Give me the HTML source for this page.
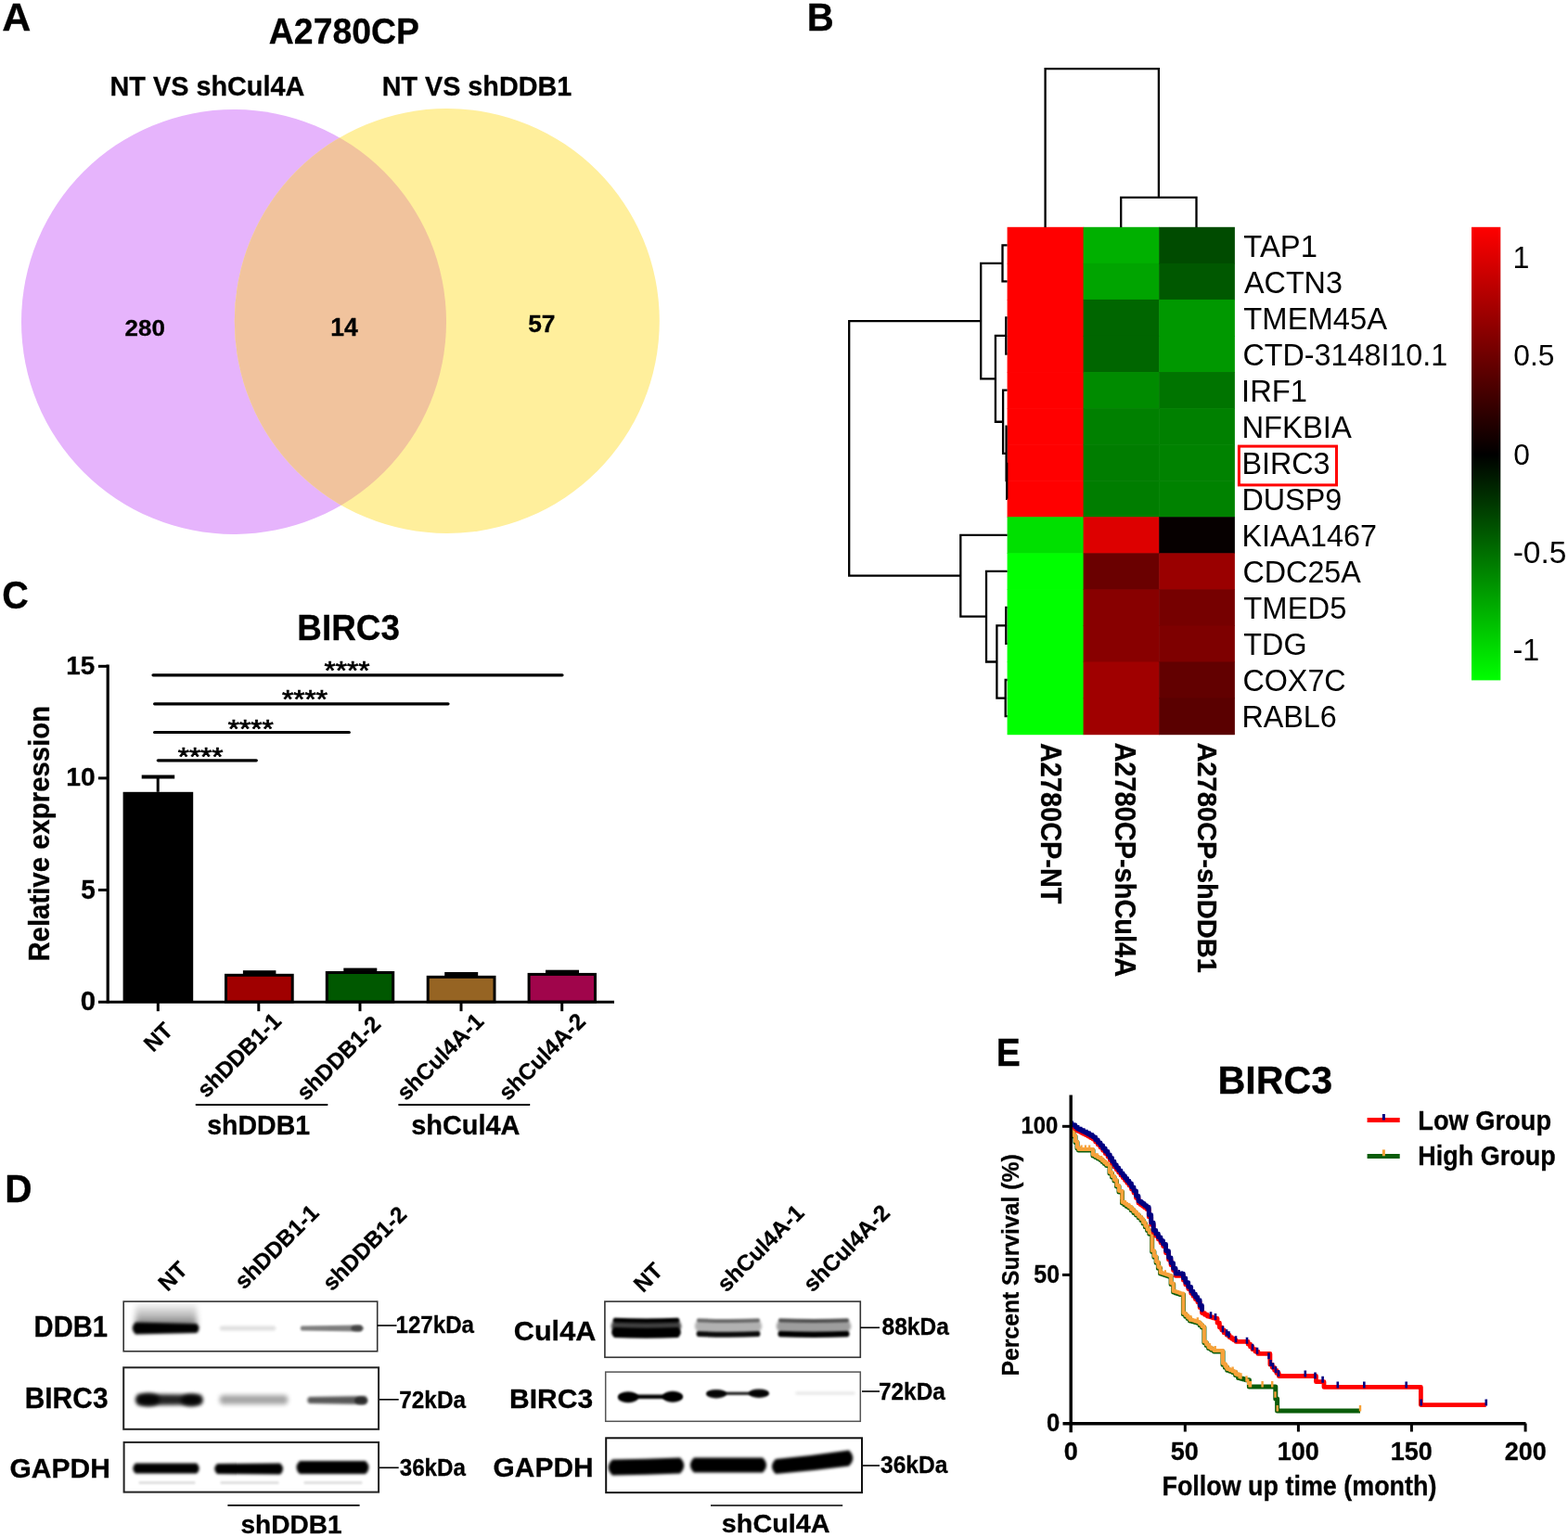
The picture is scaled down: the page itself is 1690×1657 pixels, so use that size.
<!DOCTYPE html>
<html><head><meta charset="utf-8"><title>Figure</title>
<style>html,body{margin:0;padding:0;background:#fff}svg{display:block}</style></head>
<body><svg width="1690" height="1657" viewBox="0 0 1690 1657" font-family="'Liberation Sans', Arial, sans-serif">
<rect width="1690" height="1657" fill="#fff"/>
<text transform="translate(3.40 32.70)" x="-1.08" y="0.00" font-size="43.04" font-weight="bold" stroke="#000" stroke-width="0.3" fill="#000">A</text>
<defs><clipPath id="cl"><circle cx="252" cy="347" r="229"/></clipPath></defs>
<circle cx="252" cy="347" r="229" fill="#E6B4FC"/>
<circle cx="481.8" cy="346" r="229" fill="#FFEF9C"/>
<circle cx="481.8" cy="346" r="229" fill="#F1C39D" clip-path="url(#cl)"/>
<text transform="translate(290.80 47.30) scale(0.9869 1)" x="-0.95" y="0.00" font-size="37.86" font-weight="bold" stroke="#000" stroke-width="0.3" fill="#000">A2780CP</text>
<text transform="translate(120.40 103.00) scale(0.9895 1)" x="-1.89" y="0.00" font-size="29.14" font-weight="bold" stroke="#000" stroke-width="0.3" fill="#000">NT VS shCul4A</text>
<text transform="translate(413.60 103.00) scale(0.9864 1)" x="-1.89" y="0.00" font-size="29.14" font-weight="bold" stroke="#000" stroke-width="0.3" fill="#000">NT VS shDDB1</text>
<text transform="translate(135.50 362.20) scale(1.0571 1)" x="-0.86" y="0.00" font-size="24.57" font-weight="bold" stroke="#000" stroke-width="0.3" fill="#000">280</text>
<text transform="translate(357.90 362.20) scale(0.9526 1)" x="-1.67" y="0.00" font-size="27.83" font-weight="bold" stroke="#000" stroke-width="0.3" fill="#000">14</text>
<text transform="translate(570.00 357.90) scale(0.9934 1)" x="-0.80" y="0.00" font-size="26.52" font-weight="bold" stroke="#000" stroke-width="0.3" fill="#000">57</text>
<text transform="translate(872.40 32.70) scale(0.9331 1)" x="-2.80" y="0.00" font-size="43.04" font-weight="bold" stroke="#000" stroke-width="0.3" fill="#000">B</text>
<rect x="1085.60" y="244.80" width="82.60" height="39.66" fill="#FF0000"/>
<rect x="1085.60" y="283.86" width="82.60" height="39.66" fill="#FF0000"/>
<rect x="1085.60" y="322.91" width="82.60" height="39.66" fill="#FF0000"/>
<rect x="1085.60" y="361.97" width="82.60" height="39.66" fill="#FF0000"/>
<rect x="1085.60" y="401.03" width="82.60" height="39.66" fill="#FF0000"/>
<rect x="1085.60" y="440.09" width="82.60" height="39.66" fill="#FF0000"/>
<rect x="1085.60" y="479.14" width="82.60" height="39.66" fill="#FF0000"/>
<rect x="1085.60" y="518.20" width="82.60" height="39.66" fill="#FF0000"/>
<rect x="1085.60" y="557.26" width="82.60" height="39.66" fill="#00E000"/>
<rect x="1085.60" y="596.31" width="82.60" height="39.66" fill="#00FF00"/>
<rect x="1085.60" y="635.37" width="82.60" height="39.66" fill="#00FF00"/>
<rect x="1085.60" y="674.43" width="82.60" height="39.66" fill="#00FF00"/>
<rect x="1085.60" y="713.49" width="82.60" height="39.66" fill="#00FF00"/>
<rect x="1085.60" y="752.54" width="82.60" height="39.66" fill="#00FF00"/>
<rect x="1167.60" y="244.80" width="82.20" height="39.66" fill="#00B000"/>
<rect x="1167.60" y="283.86" width="82.20" height="39.66" fill="#00A400"/>
<rect x="1167.60" y="322.91" width="82.20" height="39.66" fill="#006600"/>
<rect x="1167.60" y="361.97" width="82.20" height="39.66" fill="#006600"/>
<rect x="1167.60" y="401.03" width="82.20" height="39.66" fill="#008B00"/>
<rect x="1167.60" y="440.09" width="82.20" height="39.66" fill="#008000"/>
<rect x="1167.60" y="479.14" width="82.20" height="39.66" fill="#007D00"/>
<rect x="1167.60" y="518.20" width="82.20" height="39.66" fill="#007D00"/>
<rect x="1167.60" y="557.26" width="82.20" height="39.66" fill="#DD0000"/>
<rect x="1167.60" y="596.31" width="82.20" height="39.66" fill="#6A0000"/>
<rect x="1167.60" y="635.37" width="82.20" height="39.66" fill="#880000"/>
<rect x="1167.60" y="674.43" width="82.20" height="39.66" fill="#880000"/>
<rect x="1167.60" y="713.49" width="82.20" height="39.66" fill="#A00000"/>
<rect x="1167.60" y="752.54" width="82.20" height="39.66" fill="#A00000"/>
<rect x="1249.20" y="244.80" width="81.70" height="39.66" fill="#004B00"/>
<rect x="1249.20" y="283.86" width="81.70" height="39.66" fill="#005800"/>
<rect x="1249.20" y="322.91" width="81.70" height="39.66" fill="#009800"/>
<rect x="1249.20" y="361.97" width="81.70" height="39.66" fill="#009800"/>
<rect x="1249.20" y="401.03" width="81.70" height="39.66" fill="#007400"/>
<rect x="1249.20" y="440.09" width="81.70" height="39.66" fill="#008000"/>
<rect x="1249.20" y="479.14" width="81.70" height="39.66" fill="#008200"/>
<rect x="1249.20" y="518.20" width="81.70" height="39.66" fill="#008200"/>
<rect x="1249.20" y="557.26" width="81.70" height="39.66" fill="#060000"/>
<rect x="1249.20" y="596.31" width="81.70" height="39.66" fill="#9A0000"/>
<rect x="1249.20" y="635.37" width="81.70" height="39.66" fill="#760000"/>
<rect x="1249.20" y="674.43" width="81.70" height="39.66" fill="#7E0000"/>
<rect x="1249.20" y="713.49" width="81.70" height="39.66" fill="#620000"/>
<rect x="1249.20" y="752.54" width="81.70" height="39.66" fill="#5A0000"/>
<path d="M1126.6 245 V74.2 H1248.9 V212.8 M1208.2 245 V212.8 H1289.5 V245" stroke="#000" stroke-width="2.3" fill="none"/>
<path d="M1085.60 264.33 H1080.50 V303.39 H1085.60 M1085.60 342.44 H1084.30 V381.50 H1085.60 M1085.60 498.67 H1085.20 V537.73 H1085.60 M1085.60 459.61 H1084.60 V518.20 H1085.20 M1085.60 420.56 H1081.10 V488.91 H1084.60 M1084.30 361.97 H1072.90 V454.73 H1081.10 M1080.50 283.86 H1057.20 V408.35 H1072.90 M1085.60 654.90 H1084.30 V693.96 H1085.60 M1085.60 733.01 H1083.70 V772.07 H1085.60 M1084.30 674.43 H1074.40 V752.54 H1083.70 M1085.60 615.84 H1063.00 V713.49 H1074.40 M1085.60 576.79 H1035.30 V664.66 H1063.00 M1057.20 346.10 H915.20 V620.72 H1035.30" stroke="#000" stroke-width="2.3" fill="none"/>
<text transform="translate(1341.00 276.73) scale(0.9835 1)" x="-0.67" y="0.00" font-size="33.33" fill="#000">TAP1</text>
<text transform="translate(1341.00 315.79) scale(0.9835 1)" x="-0.00" y="0.00" font-size="32.86" fill="#000">ACTN3</text>
<text transform="translate(1341.00 354.84) scale(0.9835 1)" x="-0.67" y="0.00" font-size="33.33" fill="#000">TMEM45A</text>
<text transform="translate(1341.00 393.90) scale(0.9835 1)" x="-1.64" y="0.00" font-size="32.86" fill="#000">CTD-3148I10.1</text>
<text transform="translate(1341.00 432.96) scale(0.9835 1)" x="-3.00" y="0.00" font-size="33.33" fill="#000">IRF1</text>
<text transform="translate(1341.00 472.01) scale(0.9835 1)" x="-2.67" y="0.00" font-size="33.33" fill="#000">NFKBIA</text>
<text transform="translate(1341.00 511.07) scale(0.9835 1)" x="-2.63" y="0.00" font-size="32.86" fill="#000">BIRC3</text>
<text transform="translate(1341.00 550.13) scale(0.9835 1)" x="-2.63" y="0.00" font-size="32.86" fill="#000">DUSP9</text>
<text transform="translate(1341.00 589.19) scale(0.9835 1)" x="-2.63" y="0.00" font-size="32.86" fill="#000">KIAA1467</text>
<text transform="translate(1341.00 628.24) scale(0.9835 1)" x="-1.64" y="0.00" font-size="32.86" fill="#000">CDC25A</text>
<text transform="translate(1341.00 667.30) scale(0.9835 1)" x="-0.67" y="0.00" font-size="33.33" fill="#000">TMED5</text>
<text transform="translate(1341.00 706.36) scale(0.9835 1)" x="-0.66" y="0.00" font-size="32.86" fill="#000">TDG</text>
<text transform="translate(1341.00 745.41) scale(0.9835 1)" x="-1.64" y="0.00" font-size="32.86" fill="#000">COX7C</text>
<text transform="translate(1341.00 784.47) scale(0.9835 1)" x="-2.63" y="0.00" font-size="32.86" fill="#000">RABL6</text>
<rect x="1335.4" y="481.1" width="105.1" height="41.8" fill="none" stroke="#FF0000" stroke-width="3"/>
<defs><linearGradient id="cb" x1="0" y1="0" x2="0" y2="1"><stop offset="0" stop-color="#FF0000"/><stop offset="0.502" stop-color="#000000"/><stop offset="1" stop-color="#00FF00"/></linearGradient></defs>
<rect x="1586.00" y="244.80" width="31.30" height="488.60" fill="url(#cb)"/>
<text transform="translate(1633.00 289.30) scale(0.9835 1)" x="-2.46" y="0.00" font-size="32.75" fill="#000">1</text>
<text transform="translate(1632.60 394.30) scale(0.9835 1)" x="-1.29" y="0.00" font-size="32.29" fill="#000">0.5</text>
<text transform="translate(1632.60 500.50) scale(0.9835 1)" x="-1.29" y="0.00" font-size="32.29" fill="#000">0</text>
<text transform="translate(1632.00 712.00) scale(0.9835 1)" x="-1.47" y="0.00" font-size="32.75" fill="#000">-1</text>
<text transform="translate(1632.20 607.60) scale(1.0083 1)" x="-1.50" y="-0.33" font-size="33.24" fill="#000">-0.5</text>
<text transform="translate(1121.80 801.70) rotate(90) scale(0.9329 1)" x="-0.78" y="0.00" font-size="31.00" font-weight="bold" stroke="#000" stroke-width="0.3" fill="#000">A2780CP-NT</text>
<text transform="translate(1202.10 801.10) rotate(90) scale(0.9432 1)" x="-0.77" y="0.00" font-size="30.71" font-weight="bold" stroke="#000" stroke-width="0.3" fill="#000">A2780CP-shCul4A</text>
<text transform="translate(1291.30 801.10) rotate(90) scale(0.9591 1)" x="-0.76" y="0.00" font-size="30.29" font-weight="bold" stroke="#000" stroke-width="0.3" fill="#000">A2780CP-shDDB1</text>
<text transform="translate(3.90 656.20) scale(0.9390 1)" x="-1.68" y="-0.42" font-size="42.11" font-weight="bold" stroke="#000" stroke-width="0.3" fill="#000">C</text>
<text transform="translate(322.70 689.60) scale(0.9592 1)" x="-2.50" y="0.00" font-size="38.43" font-weight="bold" stroke="#000" stroke-width="0.3" fill="#000">BIRC3</text>
<line x1="116.20" y1="716.50" x2="116.20" y2="1081.50" stroke="#000" stroke-width="3.2"/>
<line x1="105.90" y1="1080.20" x2="662.00" y2="1080.20" stroke="#000" stroke-width="3"/>
<line x1="105.90" y1="718.30" x2="116.00" y2="718.30" stroke="#000" stroke-width="3"/>
<line x1="105.90" y1="838.90" x2="116.00" y2="838.90" stroke="#000" stroke-width="3"/>
<line x1="105.90" y1="959.50" x2="116.00" y2="959.50" stroke="#000" stroke-width="3"/>
<line x1="170.30" y1="1080.00" x2="170.30" y2="1090.20" stroke="#000" stroke-width="3"/>
<line x1="278.80" y1="1080.00" x2="278.80" y2="1090.20" stroke="#000" stroke-width="3"/>
<line x1="388.00" y1="1080.00" x2="388.00" y2="1090.20" stroke="#000" stroke-width="3"/>
<line x1="497.00" y1="1080.00" x2="497.00" y2="1090.20" stroke="#000" stroke-width="3"/>
<line x1="605.70" y1="1080.00" x2="605.70" y2="1090.20" stroke="#000" stroke-width="3"/>
<text transform="translate(73.00 727.50) scale(0.9830 1)" x="-1.70" y="-0.28" font-size="28.29" font-weight="bold" stroke="#000" stroke-width="0.3" fill="#000">15</text>
<text transform="translate(73.00 847.70) scale(1.0381 1)" x="-1.63" y="-0.27" font-size="27.18" font-weight="bold" stroke="#000" stroke-width="0.3" fill="#000">10</text>
<text transform="translate(88.00 969.00) scale(0.9655 1)" x="-0.87" y="-0.29" font-size="29.00" font-weight="bold" stroke="#000" stroke-width="0.3" fill="#000">5</text>
<text transform="translate(88.00 1089.20) scale(1.0061 1)" x="-1.17" y="-0.29" font-size="29.30" font-weight="bold" stroke="#000" stroke-width="0.3" fill="#000">0</text>
<text transform="translate(52.70 1034.70) rotate(-90) scale(0.9427 1)" x="-2.03" y="0.00" font-size="31.16" font-weight="bold" stroke="#000" stroke-width="0.3" fill="#000">Relative expression</text>
<rect x="132.60" y="853.80" width="75.60" height="226.20" fill="#000"/>
<line x1="170.20" y1="853.80" x2="170.20" y2="837.00" stroke="#000" stroke-width="3"/>
<line x1="152.70" y1="837.50" x2="188.20" y2="837.50" stroke="#000" stroke-width="4"/>
<rect x="243.50" y="1051.30" width="71.70" height="28.70" fill="#A00000" stroke="#000" stroke-width="3"/>
<rect x="261.90" y="1046.20" width="35.50" height="4.60" fill="#000"/>
<rect x="352.30" y="1048.50" width="71.40" height="31.50" fill="#005800" stroke="#000" stroke-width="3"/>
<rect x="370.30" y="1043.60" width="36.00" height="4.40" fill="#000"/>
<rect x="461.20" y="1053.30" width="71.80" height="26.70" fill="#966423" stroke="#000" stroke-width="3"/>
<rect x="479.20" y="1048.00" width="36.00" height="4.80" fill="#000"/>
<rect x="570.10" y="1050.40" width="71.40" height="29.60" fill="#A0054B" stroke="#000" stroke-width="3"/>
<rect x="588.00" y="1045.70" width="36.00" height="4.20" fill="#000"/>
<line x1="165.00" y1="727.80" x2="606.00" y2="727.80" stroke="#000" stroke-width="3.2" stroke-linecap="round"/>
<line x1="166.60" y1="758.80" x2="483.00" y2="758.80" stroke="#000" stroke-width="3.2" stroke-linecap="round"/>
<line x1="166.60" y1="789.50" x2="376.30" y2="789.50" stroke="#000" stroke-width="3.2" stroke-linecap="round"/>
<line x1="170.30" y1="819.80" x2="276.30" y2="819.80" stroke="#000" stroke-width="3.2" stroke-linecap="round"/>
<text transform="translate(350.00 722.40) scale(1.1265 1)" x="-0.42" y="9.52" font-size="28.00" fill="#000" stroke="#000" stroke-width="0.7">****</text>
<text transform="translate(304.50 753.50) scale(1.1265 1)" x="-0.42" y="9.52" font-size="28.00" fill="#000" stroke="#000" stroke-width="0.7">****</text>
<text transform="translate(246.20 786.00) scale(1.1620 1)" x="-0.41" y="9.23" font-size="27.14" fill="#000" stroke="#000" stroke-width="0.7">****</text>
<text transform="translate(192.20 815.50) scale(1.1428 1)" x="-0.41" y="9.33" font-size="27.43" fill="#000" stroke="#000" stroke-width="0.7">****</text>
<text transform="translate(166.00 1134.20) rotate(-45)" x="-1.58" y="0.00" font-size="24.30" font-weight="bold" stroke="#000" stroke-width="0.3" fill="#000">NT</text>
<text transform="translate(223.00 1183.80) rotate(-45)" x="-0.85" y="0.00" font-size="24.30" font-weight="bold" stroke="#000" stroke-width="0.3" fill="#000">shDDB1-1</text>
<text transform="translate(330.30 1186.90) rotate(-45)" x="-0.85" y="0.00" font-size="24.30" font-weight="bold" stroke="#000" stroke-width="0.3" fill="#000">shDDB1-2</text>
<text transform="translate(438.40 1186.90) rotate(-45)" x="-0.85" y="0.00" font-size="24.30" font-weight="bold" stroke="#000" stroke-width="0.3" fill="#000">shCul4A-1</text>
<text transform="translate(548.20 1186.90) rotate(-45)" x="-0.85" y="0.00" font-size="24.30" font-weight="bold" stroke="#000" stroke-width="0.3" fill="#000">shCul4A-2</text>
<line x1="210.80" y1="1191.00" x2="353.30" y2="1191.00" stroke="#000" stroke-width="2"/>
<line x1="429.40" y1="1191.00" x2="571.20" y2="1191.00" stroke="#000" stroke-width="2"/>
<text transform="translate(224.20 1222.60) scale(0.9644 1)" x="-1.03" y="0.00" font-size="29.57" font-weight="bold" stroke="#000" stroke-width="0.3" fill="#000">shDDB1</text>
<text transform="translate(444.20 1222.60) scale(0.9929 1)" x="-1.02" y="0.00" font-size="29.14" font-weight="bold" stroke="#000" stroke-width="0.3" fill="#000">shCul4A</text>
<defs><filter id="bl0_8" x="-20%" y="-60%" width="140%" height="220%"><feGaussianBlur stdDeviation="0.8"/></filter><filter id="bl1_2" x="-20%" y="-60%" width="140%" height="220%"><feGaussianBlur stdDeviation="1.2"/></filter><filter id="bl1_6" x="-20%" y="-60%" width="140%" height="220%"><feGaussianBlur stdDeviation="1.6"/></filter><filter id="bl2" x="-20%" y="-60%" width="140%" height="220%"><feGaussianBlur stdDeviation="2"/></filter><filter id="bl2_5" x="-20%" y="-60%" width="140%" height="220%"><feGaussianBlur stdDeviation="2.5"/></filter><filter id="bl3" x="-20%" y="-60%" width="140%" height="220%"><feGaussianBlur stdDeviation="3"/></filter><filter id="bl4" x="-20%" y="-60%" width="140%" height="220%"><feGaussianBlur stdDeviation="4"/></filter><linearGradient id="smear" x1="0" y1="0" x2="0" y2="1"><stop offset="0" stop-color="#000" stop-opacity="0.05"/><stop offset="0.6" stop-color="#000" stop-opacity="0.3"/><stop offset="1" stop-color="#000" stop-opacity="0.6"/></linearGradient></defs>
<text transform="translate(7.90 1296.30) scale(0.9540 1)" x="-2.77" y="0.00" font-size="42.61" font-weight="bold" stroke="#000" stroke-width="0.3" fill="#000">D</text>
<rect x="146" y="1406" width="66" height="24" fill="url(#smear)" filter="url(#bl3)"/>
<path d="M146.00 1425.50 Q179.00 1426.25 212.00 1427.00 Q217.00 1432.00 212.00 1437.00 L212.00 1437.00 Q179.00 1437.75 146.00 1438.50 Q139.50 1432.00 146.00 1425.50 Z" fill="#000" opacity="1" filter="url(#bl1_6)"/>
<path d="M238.00 1429.50 Q267.00 1429.50 296.00 1429.50 Q298.50 1432.00 296.00 1434.50 L296.00 1434.50 Q267.00 1434.50 238.00 1434.50 Q235.50 1432.00 238.00 1429.50 Z" fill="#000" opacity="0.12" filter="url(#bl1_6)"/>
<path d="M325.00 1429.50 Q357.00 1429.00 389.00 1428.50 Q392.50 1432.00 389.00 1435.50 L389.00 1435.50 Q357.00 1435.00 325.00 1434.50 Q322.50 1432.00 325.00 1429.50 Z" fill="#000" opacity="0.5" filter="url(#bl1_2)"/>
<ellipse cx="385" cy="1432" rx="7" ry="3.5" fill="#000" opacity="0.45" filter="url(#bl1_2)"/>
<path d="M149.00 1503.00 Q182.50 1503.25 216.00 1503.50 Q221.50 1509.00 216.00 1514.50 L216.00 1514.50 Q182.50 1514.75 149.00 1515.00 Q143.00 1509.00 149.00 1503.00 Z" fill="#000" opacity="0.86" filter="url(#bl2)"/>
<ellipse cx="160" cy="1509" rx="12" ry="7" fill="#000" opacity="0.85" filter="url(#bl2)"/>
<ellipse cx="206" cy="1509.5" rx="11" ry="6.5" fill="#000" opacity="0.85" filter="url(#bl2)"/>
<path d="M239.00 1504.00 Q273.50 1504.00 308.00 1504.00 Q313.00 1509.00 308.00 1514.00 L308.00 1514.00 Q273.50 1514.00 239.00 1514.00 Q234.00 1509.00 239.00 1504.00 Z" fill="#000" opacity="0.35" filter="url(#bl2_5)"/>
<path d="M333.00 1506.00 Q363.50 1505.50 394.00 1505.00 Q398.50 1509.50 394.00 1514.00 L394.00 1514.00 Q363.50 1513.50 333.00 1513.00 Q329.50 1509.50 333.00 1506.00 Z" fill="#000" opacity="0.65" filter="url(#bl1_6)"/>
<ellipse cx="389" cy="1510" rx="7" ry="4.5" fill="#000" opacity="0.5" filter="url(#bl1_2)"/>
<path d="M146.00 1577.50 Q179.00 1577.50 212.00 1577.50 Q217.50 1583.00 212.00 1588.50 L212.00 1588.50 Q179.00 1588.50 146.00 1588.50 Q140.50 1583.00 146.00 1577.50 Z" fill="#000" opacity="1" filter="url(#bl1_6)"/>
<path d="M234.00 1578.00 Q268.00 1577.75 302.00 1577.50 Q308.00 1583.50 302.00 1589.50 L302.00 1589.50 Q268.00 1589.25 234.00 1589.00 Q228.50 1583.50 234.00 1578.00 Z" fill="#000" opacity="1" filter="url(#bl1_6)"/>
<path d="M323.00 1575.00 Q358.50 1575.00 394.00 1575.00 Q401.00 1582.00 394.00 1589.00 L394.00 1589.00 Q358.50 1589.00 323.00 1589.00 Q316.00 1582.00 323.00 1575.00 Z" fill="#000" opacity="1" filter="url(#bl1_6)"/>
<path d="M150.00 1597.00 Q180.00 1597.00 210.00 1597.00 Q211.50 1598.50 210.00 1600.00 L210.00 1600.00 Q180.00 1600.00 150.00 1600.00 Q148.50 1598.50 150.00 1597.00 Z" fill="#000" opacity="0.12" filter="url(#bl1_2)"/>
<path d="M238.00 1597.00 Q269.00 1597.00 300.00 1597.00 Q301.50 1598.50 300.00 1600.00 L300.00 1600.00 Q269.00 1600.00 238.00 1600.00 Q236.50 1598.50 238.00 1597.00 Z" fill="#000" opacity="0.12" filter="url(#bl1_2)"/>
<path d="M328.00 1597.00 Q359.00 1597.00 390.00 1597.00 Q391.50 1598.50 390.00 1600.00 L390.00 1600.00 Q359.00 1600.00 328.00 1600.00 Q326.50 1598.50 328.00 1597.00 Z" fill="#000" opacity="0.12" filter="url(#bl1_2)"/>
<rect x="133.20" y="1403.10" width="273.50" height="53.70" fill="none" stroke="#333" stroke-width="1.6"/>
<rect x="133.20" y="1474.30" width="274.90" height="66.50" fill="none" stroke="#222" stroke-width="2"/>
<rect x="133.60" y="1554.90" width="274.50" height="53.70" fill="none" stroke="#222" stroke-width="2"/>
<text transform="translate(38.50 1440.50) scale(0.9200 1)" x="-2.06" y="0.00" font-size="31.74" font-weight="bold" stroke="#000" stroke-width="0.3" fill="#000">DDB1</text>
<text transform="translate(28.60 1518.20) scale(0.9622 1)" x="-2.02" y="0.00" font-size="31.14" font-weight="bold" stroke="#000" stroke-width="0.3" fill="#000">BIRC3</text>
<text transform="translate(11.70 1592.50) scale(0.9910 1)" x="-1.21" y="0.00" font-size="30.29" font-weight="bold" stroke="#000" stroke-width="0.3" fill="#000">GAPDH</text>
<line x1="406.80" y1="1429.00" x2="427.50" y2="1429.00" stroke="#000" stroke-width="1.6"/>
<text transform="translate(428.00 1437.00) scale(0.9378 1)" x="-1.54" y="0.00" font-size="25.71" font-weight="bold" stroke="#000" stroke-width="0.3" fill="#000">127kDa</text>
<line x1="409.00" y1="1508.80" x2="429.70" y2="1508.80" stroke="#000" stroke-width="1.6"/>
<text transform="translate(431.30 1517.70) scale(0.9459 1)" x="-1.03" y="0.00" font-size="25.71" font-weight="bold" stroke="#000" stroke-width="0.3" fill="#000">72kDa</text>
<line x1="409.00" y1="1582.30" x2="429.70" y2="1582.30" stroke="#000" stroke-width="1.6"/>
<text transform="translate(431.30 1591.20) scale(0.9410 1)" x="-0.64" y="0.00" font-size="25.71" font-weight="bold" stroke="#000" stroke-width="0.3" fill="#000">36kDa</text>
<text transform="translate(181.70 1392.10) rotate(-45)" x="-1.58" y="0.00" font-size="24.30" font-weight="bold" stroke="#000" stroke-width="0.3" fill="#000">NT</text>
<text transform="translate(263.60 1390.50) rotate(-45)" x="-0.85" y="0.00" font-size="24.30" font-weight="bold" stroke="#000" stroke-width="0.3" fill="#000">shDDB1-1</text>
<text transform="translate(358.30 1392.10) rotate(-45)" x="-0.85" y="0.00" font-size="24.30" font-weight="bold" stroke="#000" stroke-width="0.3" fill="#000">shDDB1-2</text>
<line x1="245.40" y1="1622.90" x2="387.60" y2="1622.90" stroke="#000" stroke-width="1.6"/>
<text transform="translate(260.40 1653.20) scale(1.0096 1)" x="-0.97" y="0.00" font-size="27.83" font-weight="bold" stroke="#000" stroke-width="0.3" fill="#000">shDDB1</text>
<path d="M662.00 1423.00 Q696.50 1424.50 731.00 1423.00 Q737.50 1429.50 731.00 1436.00 L731.00 1436.00 Q696.50 1437.50 662.00 1436.00 Q655.50 1429.50 662.00 1423.00 Z" fill="#000" opacity="0.75" filter="url(#bl1_6)"/>
<path d="M662.00 1420.80 Q696.50 1422.30 731.00 1420.80 Q733.50 1423.30 731.00 1425.80 L731.00 1425.80 Q696.50 1427.30 662.00 1425.80 Q659.50 1423.30 662.00 1420.80 Z" fill="#000" opacity="1" filter="url(#bl1_2)"/>
<path d="M662.00 1431.00 Q696.50 1432.50 731.00 1431.00 Q736.50 1436.50 731.00 1442.00 L731.00 1442.00 Q696.50 1443.50 662.00 1442.00 Q656.50 1436.50 662.00 1431.00 Z" fill="#000" opacity="1" filter="url(#bl1_2)"/>
<path d="M752.00 1423.00 Q785.00 1424.50 818.00 1423.00 Q824.50 1429.50 818.00 1436.00 L818.00 1436.00 Q785.00 1437.50 752.00 1436.00 Q745.50 1429.50 752.00 1423.00 Z" fill="#000" opacity="0.3" filter="url(#bl1_6)"/>
<path d="M752.00 1421.30 Q785.00 1422.80 818.00 1421.30 Q820.00 1423.30 818.00 1425.30 L818.00 1425.30 Q785.00 1426.80 752.00 1425.30 Q750.00 1423.30 752.00 1421.30 Z" fill="#000" opacity="0.5" filter="url(#bl1_2)"/>
<path d="M752.00 1435.00 Q785.00 1436.50 818.00 1435.00 Q821.00 1438.00 818.00 1441.00 L818.00 1441.00 Q785.00 1442.50 752.00 1441.00 Q749.00 1438.00 752.00 1435.00 Z" fill="#000" opacity="0.95" filter="url(#bl1_2)"/>
<path d="M840.00 1423.00 Q877.00 1424.50 914.00 1423.00 Q920.50 1429.50 914.00 1436.00 L914.00 1436.00 Q877.00 1437.50 840.00 1436.00 Q833.50 1429.50 840.00 1423.00 Z" fill="#000" opacity="0.38" filter="url(#bl1_6)"/>
<path d="M840.00 1421.30 Q877.00 1422.80 914.00 1421.30 Q916.00 1423.30 914.00 1425.30 L914.00 1425.30 Q877.00 1426.80 840.00 1425.30 Q838.00 1423.30 840.00 1421.30 Z" fill="#000" opacity="0.6" filter="url(#bl1_2)"/>
<path d="M840.00 1434.75 Q877.00 1436.25 914.00 1434.75 Q917.25 1438.00 914.00 1441.25 L914.00 1441.25 Q877.00 1442.75 840.00 1441.25 Q836.75 1438.00 840.00 1434.75 Z" fill="#000" opacity="1" filter="url(#bl1_2)"/>
<path d="M668.00 1503.45 Q701.00 1503.45 734.00 1503.45 Q736.25 1505.70 734.00 1507.95 L734.00 1507.95 Q701.00 1507.95 668.00 1507.95 Q665.75 1505.70 668.00 1503.45 Z" fill="#000" opacity="1" filter="url(#bl1_2)"/>
<ellipse cx="677.00" cy="1506.20" rx="11.00" ry="6.00" fill="#000" opacity="1" filter="url(#bl1_2)"/>
<ellipse cx="725.00" cy="1505.70" rx="11.00" ry="6.00" fill="#000" opacity="1" filter="url(#bl1_2)"/>
<path d="M763.00 1500.70 Q795.00 1500.70 827.00 1500.70 Q828.50 1502.20 827.00 1503.70 L827.00 1503.70 Q795.00 1503.70 763.00 1503.70 Q761.50 1502.20 763.00 1500.70 Z" fill="#000" opacity="0.95" filter="url(#bl1_2)"/>
<ellipse cx="772.00" cy="1502.70" rx="11.00" ry="4.75" fill="#000" opacity="0.95" filter="url(#bl1_2)"/>
<ellipse cx="818.00" cy="1502.20" rx="11.00" ry="4.75" fill="#000" opacity="0.95" filter="url(#bl1_2)"/>
<path d="M858.00 1500.50 Q889.50 1500.50 921.00 1500.50 Q922.50 1502.00 921.00 1503.50 L921.00 1503.50 Q889.50 1503.50 858.00 1503.50 Q856.50 1502.00 858.00 1500.50 Z" fill="#000" opacity="0.1" filter="url(#bl1_6)"/>
<path d="M660.00 1573.50 Q696.50 1573.00 733.00 1571.50 Q741.50 1580.00 733.00 1588.50 L733.00 1588.50 Q696.50 1590.00 660.00 1590.50 Q651.50 1582.00 660.00 1573.50 Z" fill="#000" opacity="1" filter="url(#bl1_6)"/>
<path d="M748.00 1571.50 Q785.00 1571.50 822.00 1571.50 Q830.00 1579.50 822.00 1587.50 L822.00 1587.50 Q785.00 1587.50 748.00 1587.50 Q740.00 1579.50 748.00 1571.50 Z" fill="#000" opacity="1" filter="url(#bl1_6)"/>
<path d="M836.00 1573.00 Q875.50 1569.25 915.00 1563.50 Q923.50 1572.00 915.00 1580.50 L915.00 1580.50 Q875.50 1585.75 836.00 1589.00 Q828.00 1581.00 836.00 1573.00 Z" fill="#000" opacity="1" filter="url(#bl1_6)"/>
<rect x="651.90" y="1403.10" width="275.40" height="60.20" fill="none" stroke="#333" stroke-width="1.6"/>
<rect x="652.70" y="1479.10" width="274.60" height="53.20" fill="none" stroke="#555" stroke-width="1.5"/>
<rect x="653.20" y="1550.30" width="275.80" height="58.80" fill="none" stroke="#111" stroke-width="2"/>
<text transform="translate(555.00 1445.00) scale(1.0116 1)" x="-1.21" y="0.00" font-size="30.29" font-weight="bold" stroke="#000" stroke-width="0.3" fill="#000">Cul4A</text>
<text transform="translate(551.00 1517.60)" x="-1.95" y="0.00" font-size="30.00" font-weight="bold" stroke="#000" stroke-width="0.3" fill="#000">BIRC3</text>
<text transform="translate(532.80 1592.30) scale(0.9873 1)" x="-1.21" y="0.00" font-size="30.29" font-weight="bold" stroke="#000" stroke-width="0.3" fill="#000">GAPDH</text>
<line x1="927.30" y1="1431.30" x2="948.00" y2="1431.30" stroke="#000" stroke-width="1.6"/>
<text transform="translate(951.30 1438.70) scale(0.9533 1)" x="-0.77" y="0.00" font-size="25.71" font-weight="bold" stroke="#000" stroke-width="0.3" fill="#000">88kDa</text>
<line x1="929.00" y1="1500.00" x2="948.00" y2="1500.00" stroke="#000" stroke-width="1.6"/>
<text transform="translate(948.00 1509.00) scale(0.9472 1)" x="-1.03" y="0.00" font-size="25.71" font-weight="bold" stroke="#000" stroke-width="0.3" fill="#000">72kDa</text>
<line x1="930.00" y1="1580.00" x2="948.00" y2="1580.00" stroke="#000" stroke-width="1.6"/>
<text transform="translate(949.70 1588.00) scale(0.9543 1)" x="-0.64" y="0.00" font-size="25.71" font-weight="bold" stroke="#000" stroke-width="0.3" fill="#000">36kDa</text>
<text transform="translate(694.00 1393.40) rotate(-45)" x="-1.58" y="0.00" font-size="24.30" font-weight="bold" stroke="#000" stroke-width="0.3" fill="#000">NT</text>
<text transform="translate(783.60 1393.30) rotate(-45)" x="-0.85" y="0.00" font-size="24.30" font-weight="bold" stroke="#000" stroke-width="0.3" fill="#000">shCul4A-1</text>
<text transform="translate(876.30 1393.30) rotate(-45)" x="-0.85" y="0.00" font-size="24.30" font-weight="bold" stroke="#000" stroke-width="0.3" fill="#000">shCul4A-2</text>
<line x1="766.00" y1="1623.00" x2="908.20" y2="1623.00" stroke="#000" stroke-width="1.6"/>
<text transform="translate(778.80 1651.80) scale(1.0495 1)" x="-0.96" y="0.00" font-size="27.43" font-weight="bold" stroke="#000" stroke-width="0.3" fill="#000">shCul4A</text>
<text transform="translate(1076.40 1149.30) scale(0.9211 1)" x="-2.76" y="0.00" font-size="42.46" font-weight="bold" stroke="#000" stroke-width="0.3" fill="#000">E</text>
<text transform="translate(1315.10 1179.00) scale(0.9736 1)" x="-2.76" y="0.00" font-size="42.43" font-weight="bold" stroke="#000" stroke-width="0.3" fill="#000">BIRC3</text>
<path d="M1154.40 1214.00 H1157.00 V1225.00 H1159.00 V1231.50 H1161.00 V1238.00 H1162.50 V1240.00 L1175.50 1240.00 H1178.00 V1246.00 H1180.67 V1247.50 H1183.33 V1249.00 H1186.00 V1250.50 H1188.20 V1252.50 H1190.40 V1254.50 H1192.60 V1256.50 H1196.00 V1265.00 H1198.50 V1269.00 H1201.00 V1273.00 H1203.50 V1279.00 H1206.00 V1285.00 H1209.50 V1297.00 H1211.87 V1298.70 H1214.23 V1300.40 H1216.60 V1302.10 H1219.26 V1304.76 H1221.92 V1307.42 H1224.58 V1310.08 H1227.24 V1312.74 H1229.90 V1315.40 H1232.12 V1319.10 H1234.35 V1322.80 H1236.58 V1326.50 H1238.80 V1330.20 H1241.70 V1349.40 H1243.92 V1355.33 H1246.15 V1361.25 H1248.38 V1367.17 H1250.60 V1373.10 H1252.82 V1373.82 H1255.05 V1374.55 H1257.28 V1375.28 H1259.50 V1376.00 H1262.10 V1384.55 H1264.70 V1393.10 H1267.07 V1393.90 H1269.43 V1394.70 H1271.80 V1395.50 H1275.40 V1416.80 H1277.77 V1419.17 H1280.13 V1421.53 H1282.50 V1423.90 H1285.27 V1424.70 H1288.03 V1425.50 H1290.80 V1426.30 H1293.15 V1428.65 H1295.50 V1431.00 H1297.90 V1447.60 H1300.25 V1450.55 H1302.60 V1453.50 H1305.55 V1455.25 H1308.50 V1457.00 L1315.60 1457.00 H1318.00 V1471.20 H1320.35 V1474.20 H1322.70 V1477.20 H1325.65 V1478.35 H1328.60 V1479.50 H1331.60 V1482.45 H1334.60 V1485.40 H1337.33 V1486.20 H1340.07 V1487.00 H1342.80 V1487.80 H1346.40 V1494.90 L1372.40 1494.90 H1374.80 V1507.90 H1376.60 V1521.00 L1466.00 1521.00" stroke="#0A5C0A" stroke-width="5" fill="none" stroke-linejoin="round"/>
<path d="M1154.40 1212.90 H1157.00 V1223.90 H1159.00 V1230.40 H1161.00 V1236.90 H1162.50 V1238.90 L1175.50 1238.90 H1178.00 V1244.90 H1180.67 V1246.40 H1183.33 V1247.90 H1186.00 V1249.40 H1188.20 V1251.40 H1190.40 V1253.40 H1192.60 V1255.40 H1196.00 V1263.90 H1198.50 V1267.90 H1201.00 V1271.90 H1203.50 V1277.90 H1206.00 V1283.90 H1209.50 V1295.90 H1211.87 V1297.60 H1214.23 V1299.30 H1216.60 V1301.00 H1219.26 V1303.66 H1221.92 V1306.32 H1224.58 V1308.98 H1227.24 V1311.64 H1229.90 V1314.30 H1232.12 V1318.00 H1234.35 V1321.70 H1236.58 V1325.40 H1238.80 V1329.10 H1241.70 V1348.30 H1243.92 V1354.23 H1246.15 V1360.15 H1248.38 V1366.08 H1250.60 V1372.00 H1252.82 V1372.72 H1255.05 V1373.45 H1257.28 V1374.18 H1259.50 V1374.90 H1262.10 V1383.45 H1264.70 V1392.00 H1267.07 V1392.80 H1269.43 V1393.60 H1271.80 V1394.40 H1275.40 V1415.70 H1277.77 V1418.07 H1280.13 V1420.43 H1282.50 V1422.80 H1285.27 V1423.60 H1288.03 V1424.40 H1290.80 V1425.20 H1293.15 V1427.55 H1295.50 V1429.90 H1297.90 V1446.50 H1300.25 V1449.45 H1302.60 V1452.40 H1305.55 V1454.15 H1308.50 V1455.90 L1315.60 1455.90 H1318.00 V1470.10 H1320.35 V1473.10 H1322.70 V1476.10 H1325.65 V1477.25 H1328.60 V1478.40 H1331.60 V1481.35 H1334.60 V1484.30" stroke="#F7A23A" stroke-width="4" fill="none" stroke-linejoin="round"/>
<path d="M1154.40 1214.50 H1156.50 V1215.00 H1158.75 V1217.00 H1161.00 V1219.00 H1163.25 V1220.12 H1165.50 V1221.25 H1167.75 V1222.38 H1170.00 V1223.50 H1172.67 V1225.00 H1175.33 V1226.50 H1178.00 V1228.00 H1180.67 V1231.00 H1183.33 V1234.00 H1186.00 V1237.00 H1188.67 V1240.33 H1191.33 V1243.67 H1194.00 V1247.00 H1196.33 V1250.67 H1198.67 V1254.33 H1201.00 V1258.00 H1203.33 V1261.00 H1205.67 V1264.00 H1208.00 V1267.00 H1210.25 V1269.75 H1212.50 V1272.50 H1214.75 V1275.25 H1217.00 V1278.00 H1219.50 V1282.00 H1222.00 V1286.00 H1224.50 V1291.50 H1227.00 V1297.00 H1229.20 V1298.65 H1231.40 V1300.30 H1233.60 V1301.95 H1235.80 V1303.60 H1238.27 V1311.97 H1240.73 V1320.33 H1243.20 V1328.70 H1245.80 V1332.40 H1248.40 V1336.10 H1251.00 V1339.80 H1253.60 V1343.50 H1256.55 V1350.75 H1259.50 V1358.00 H1262.03 V1363.80 H1264.57 V1369.60 H1267.10 V1375.40 L1273.00 1375.40 H1275.40 V1380.15 H1277.80 V1384.90 H1280.75 V1389.60 H1283.70 V1394.30 H1286.07 V1397.47 H1288.43 V1400.63 H1290.80 V1403.80 H1293.15 V1409.70 H1295.50 V1415.60 H1298.45 V1417.40 H1301.40 V1419.20 H1304.17 V1419.97 H1306.93 V1420.73 H1309.70 V1421.50 H1312.05 V1426.25 H1314.40 V1431.00 H1316.80 V1433.95 H1319.20 V1436.90 H1322.15 V1439.30 H1325.10 V1441.70 H1327.47 V1443.27 H1329.83 V1444.83 H1332.20 V1446.40 L1342.80 1446.40 H1345.17 V1449.17 H1347.53 V1451.93 H1349.90 V1454.70 H1352.90 V1457.05 H1355.90 V1459.40 L1366.50 1459.40 H1368.90 V1471.20 H1371.25 V1474.28 H1373.60 V1477.35 H1375.95 V1480.42 H1378.30 V1483.50 L1417.00 1483.50 H1418.50 V1489.70 L1426.30 1489.70 H1427.00 V1495.40 L1531.40 1495.40 L1531.40 1514.60 L1601.60 1514.60" stroke="#FF0000" stroke-width="4.8" fill="none" stroke-linejoin="round"/>
<path d="M1154.40 1212.30 H1156.50 V1212.80 H1158.75 V1214.80 H1161.00 V1216.80 H1163.25 V1217.92 H1165.50 V1219.05 H1167.75 V1220.17 H1170.00 V1221.30 H1172.67 V1222.80 H1175.33 V1224.30 H1178.00 V1225.80 H1180.67 V1228.80 H1183.33 V1231.80 H1186.00 V1234.80 H1188.67 V1238.13 H1191.33 V1241.47 H1194.00 V1244.80 H1196.33 V1248.47 H1198.67 V1252.13 H1201.00 V1255.80 H1203.33 V1258.80 H1205.67 V1261.80 H1208.00 V1264.80 H1210.25 V1267.55 H1212.50 V1270.30 H1214.75 V1273.05 H1217.00 V1275.80 H1219.50 V1279.80 H1222.00 V1283.80 H1224.50 V1289.30 H1227.00 V1294.80 H1229.20 V1296.45 H1231.40 V1298.10 H1233.60 V1299.75 H1235.80 V1301.40 H1238.27 V1309.77 H1240.73 V1318.13 H1243.20 V1326.50 H1245.80 V1330.20 H1248.40 V1333.90 H1251.00 V1337.60 H1253.60 V1341.30 H1256.55 V1348.55 H1259.50 V1355.80 H1262.03 V1361.60 H1264.57 V1367.40 H1267.10 V1373.20 L1273.00 1373.20 H1275.40 V1377.95 H1277.80 V1382.70 H1280.75 V1387.40 H1283.70 V1392.10 H1286.07 V1395.27 H1288.43 V1398.43 H1290.80 V1401.60 H1293.15 V1407.50 H1295.50 V1413.40" stroke="#000080" stroke-width="4.8" fill="none" stroke-linejoin="round"/>
<path d="M1156.00 1208.38 V1213.88 M1159.10 1210.81 V1216.31 M1162.20 1213.10 V1218.60 M1165.30 1214.65 V1220.15 M1168.40 1216.20 V1221.70 M1171.50 1217.84 V1223.34 M1174.60 1219.59 V1225.09 M1177.70 1221.33 V1226.83 M1180.80 1224.65 V1230.15 M1183.90 1228.14 V1233.64 M1187.00 1231.75 V1237.25 M1190.10 1235.62 V1241.12 M1193.20 1239.50 V1245.00 M1196.30 1244.11 V1249.61 M1199.40 1248.99 V1254.49 M1202.50 1253.43 V1258.93 M1205.60 1257.41 V1262.91 M1208.70 1261.36 V1266.86 M1211.80 1265.14 V1270.64 M1214.90 1268.93 V1274.43 M1218.00 1273.10 V1278.60 M1221.10 1278.06 V1283.56 M1224.20 1284.34 V1289.84 M1227.30 1290.72 V1296.22 M1230.40 1293.05 V1298.55 M1233.50 1295.37 V1300.87 M1236.60 1299.81 V1305.31 M1239.70 1310.33 V1315.83 M1242.80 1320.84 V1326.34 M1245.90 1326.04 V1331.54 M1249.00 1330.45 V1335.95 M1252.10 1334.87 V1340.37 M1255.20 1340.93 V1346.43 M1258.30 1348.55 V1354.05 M1261.40 1355.85 V1361.35 M1264.50 1362.95 V1368.45 M1267.60 1368.90 V1374.40 M1270.70 1368.90 V1374.40 M1273.80 1370.48 V1375.98 M1276.90 1376.62 V1382.12 M1280.00 1381.91 V1387.41 M1283.10 1386.84 V1392.34 M1286.20 1391.15 V1396.65 M1289.30 1395.29 V1400.79 M1292.40 1401.32 V1406.82 M1295.50 1409.10 V1414.60 " stroke="#000080" stroke-width="2.4" fill="none"/>
<path d="M1157.00 1219.50 V1224.00 M1161.30 1232.90 V1237.40 M1165.60 1234.50 V1239.00 M1169.90 1234.50 V1239.00 M1174.20 1234.50 V1239.00 M1178.50 1240.78 V1245.28 M1182.80 1243.20 V1247.70 M1187.10 1246.00 V1250.50 M1191.40 1249.91 V1254.41 M1195.70 1258.75 V1263.25 M1200.00 1265.90 V1270.40 M1204.30 1275.42 V1279.92 M1208.60 1288.41 V1292.91 M1212.90 1293.94 V1298.44 M1217.20 1297.20 V1301.70 M1221.50 1301.50 V1306.00 M1225.80 1305.80 V1310.30 M1230.10 1310.23 V1314.73 M1234.40 1317.38 V1321.88 M1238.70 1324.53 V1329.03 M1243.00 1347.36 V1351.86 M1247.30 1358.81 V1363.31 M1251.60 1367.93 V1372.43 M1255.90 1369.33 V1373.83 M1260.20 1372.80 V1377.30 M1264.50 1386.94 V1391.44 " stroke="#F7A23A" stroke-width="2.2" fill="none"/>
<path d="M1305.00 1414.20 V1421.20 M1310.00 1416.11 V1423.11 M1318.00 1429.42 V1436.42 M1322.00 1433.18 V1440.18 M1324.50 1435.21 V1442.21 M1332.00 1440.27 V1447.27 M1344.00 1441.80 V1448.80 M1350.00 1448.78 V1455.78 M1355.00 1452.69 V1459.69 M1367.50 1458.32 V1465.32 M1369.50 1465.99 V1472.99 M1372.00 1469.26 V1476.26 M1375.00 1473.18 V1480.18 M1378.00 1477.11 V1484.11 M1406.80 1477.50 V1484.50 M1417.50 1479.57 V1486.57 M1425.60 1483.70 V1490.70 M1441.80 1489.40 V1496.40 M1470.30 1489.40 V1496.40 M1515.70 1489.40 V1496.40 M1531.70 1508.60 V1515.60 M1601.80 1508.60 V1515.60 " stroke="#000080" stroke-width="2.6" fill="none"/>
<path d="M1282.50 1417.90 V1424.40 M1283.50 1418.19 V1424.69 M1337.50 1480.25 V1486.75 M1343.50 1483.18 V1489.68 M1346.60 1488.90 V1495.40 M1348.00 1488.90 V1495.40 M1290.80 1420.30 V1426.80 M1297.90 1441.60 V1448.10 M1303.80 1448.21 V1454.71 M1309.70 1451.00 V1457.50 M1316.80 1458.10 V1464.60 M1321.50 1469.67 V1476.17 M1328.60 1473.50 V1480.00 M1332.20 1477.04 V1483.54 M1335.70 1479.72 V1486.22 M1345.20 1486.53 V1493.03 M1360.60 1488.90 V1495.40 M1371.20 1488.90 V1495.40 M1374.50 1500.28 V1506.78 M1376.80 1515.00 V1521.50 M1466.00 1515.00 V1521.50 " stroke="#F7A23A" stroke-width="2.4" fill="none"/>
<line x1="1154.20" y1="1180.50" x2="1154.20" y2="1544.30" stroke="#000" stroke-width="3.4"/>
<line x1="1145.50" y1="1534.70" x2="1644.50" y2="1534.70" stroke="#000" stroke-width="3.4"/>
<line x1="1145.00" y1="1214.30" x2="1153.80" y2="1214.30" stroke="#000" stroke-width="3"/>
<line x1="1145.00" y1="1374.40" x2="1153.80" y2="1374.40" stroke="#000" stroke-width="3"/>
<line x1="1277.30" y1="1534.50" x2="1277.30" y2="1543.50" stroke="#000" stroke-width="3"/>
<line x1="1399.40" y1="1534.50" x2="1399.40" y2="1543.50" stroke="#000" stroke-width="3"/>
<line x1="1521.40" y1="1534.50" x2="1521.40" y2="1543.50" stroke="#000" stroke-width="3"/>
<line x1="1644.10" y1="1534.50" x2="1644.10" y2="1543.50" stroke="#000" stroke-width="3"/>
<text transform="translate(1101.80 1222.70) scale(0.9172 1)" x="-1.56" y="-0.26" font-size="26.06" font-weight="bold" stroke="#000" stroke-width="0.3" fill="#000">100</text>
<text transform="translate(1115.10 1382.90) scale(0.9209 1)" x="-0.81" y="-0.27" font-size="27.04" font-weight="bold" stroke="#000" stroke-width="0.3" fill="#000">50</text>
<text transform="translate(1129.10 1543.20) scale(0.9548 1)" x="-1.08" y="-0.27" font-size="26.90" font-weight="bold" stroke="#000" stroke-width="0.3" fill="#000">0</text>
<text transform="translate(1147.88 1574.10)" x="-1.08" y="-0.27" font-size="27.04" font-weight="bold" stroke="#000" stroke-width="0.3" fill="#000">0</text>
<text transform="translate(1262.54 1574.10)" x="-0.81" y="-0.27" font-size="27.04" font-weight="bold" stroke="#000" stroke-width="0.3" fill="#000">50</text>
<text transform="translate(1378.24 1574.10)" x="-1.62" y="-0.27" font-size="27.04" font-weight="bold" stroke="#000" stroke-width="0.3" fill="#000">100</text>
<text transform="translate(1500.24 1574.10)" x="-1.62" y="-0.27" font-size="27.04" font-weight="bold" stroke="#000" stroke-width="0.3" fill="#000">150</text>
<text transform="translate(1622.60 1574.10)" x="-0.95" y="-0.27" font-size="27.04" font-weight="bold" stroke="#000" stroke-width="0.3" fill="#000">200</text>
<text transform="translate(1254.20 1612.20) scale(0.8929 1)" x="-1.96" y="0.00" font-size="30.14" font-weight="bold" stroke="#000" stroke-width="0.3" fill="#000">Follow up time (month)</text>
<text transform="translate(1097.90 1481.90) rotate(-90) scale(0.9621 1)" x="-1.67" y="0.00" font-size="25.71" font-weight="bold" stroke="#000" stroke-width="0.3" fill="#000">Percent Survival (%)</text>
<line x1="1473.60" y1="1207.60" x2="1508.70" y2="1207.60" stroke="#FF0000" stroke-width="5"/>
<line x1="1491.40" y1="1201.00" x2="1491.40" y2="1207.50" stroke="#000080" stroke-width="3"/>
<line x1="1473.60" y1="1246.40" x2="1508.70" y2="1246.40" stroke="#0A5C0A" stroke-width="5"/>
<line x1="1491.40" y1="1239.40" x2="1491.40" y2="1246.20" stroke="#F7A23A" stroke-width="3"/>
<text transform="translate(1530.10 1217.70) scale(0.9035 1)" x="-1.96" y="0.00" font-size="30.14" font-weight="bold" stroke="#000" stroke-width="0.3" fill="#000">Low Group</text>
<text transform="translate(1530.10 1256.00) scale(0.9261 1)" x="-1.89" y="0.00" font-size="29.14" font-weight="bold" stroke="#000" stroke-width="0.3" fill="#000">High Group</text>
</svg></body></html>
